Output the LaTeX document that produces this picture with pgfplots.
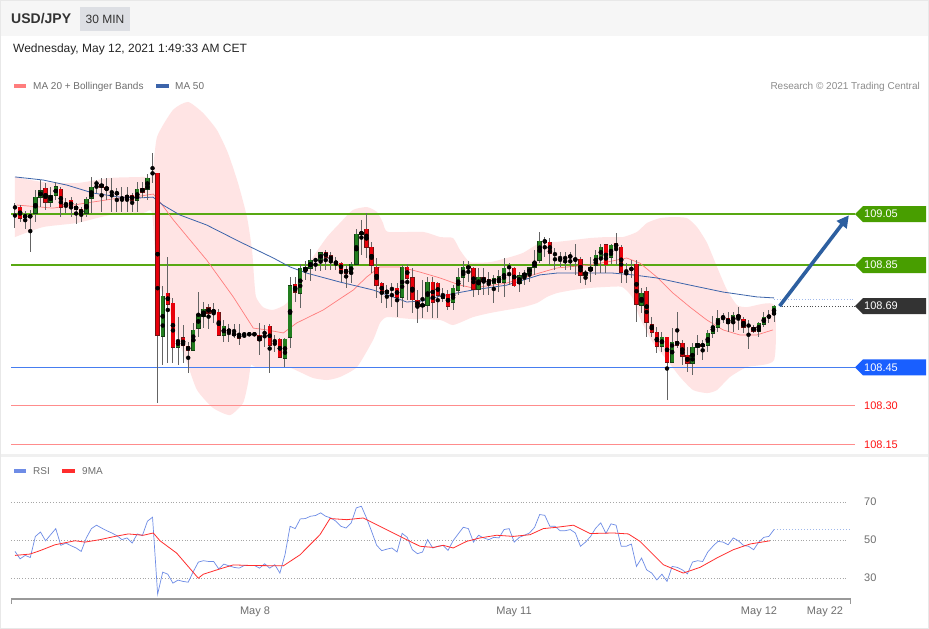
\documentclass[border=0pt]{standalone}
\usepackage{pgfplots}
\pgfplotsset{compat=1.18}
\usepackage{pgfplotstable}
\usetikzlibrary{arrows.meta}
\usepackage{fontspec}
\setmainfont{Liberation Sans}

\definecolor{cRed}{RGB}{232,0,10}
\definecolor{cRedB}{RGB}{110,20,20}
\definecolor{cGreen}{RGB}{34,125,30}
\definecolor{cGreenB}{RGB}{20,60,20}
\definecolor{cWick}{RGB}{100,100,100}
\definecolor{cBand}{RGB}{255,228,228}
\definecolor{cMA20}{RGB}{255,125,125}
\definecolor{cMA50}{RGB}{60,100,170}
\definecolor{cLvlGreen}{RGB}{88,168,18}
\definecolor{cBoxGreen}{RGB}{72,158,0}
\definecolor{cLevelB}{RGB}{70,125,240}
\definecolor{cBoxBlue}{RGB}{25,95,255}
\definecolor{cLvlRed}{RGB}{255,140,140}
\definecolor{cTxtRed}{RGB}{255,20,20}
\definecolor{cArrow}{RGB}{45,95,160}
\definecolor{cRSI}{RGB}{110,140,230}
\definecolor{cMA9}{RGB}{255,45,45}
\definecolor{cGrayTxt}{RGB}{110,110,110}
\definecolor{cHead}{RGB}{246,246,246}
\definecolor{cSep}{RGB}{240,240,240}
\definecolor{cFrame}{RGB}{232,232,232}
\definecolor{cTag}{RGB}{221,223,228}
\definecolor{cGuideB}{RGB}{160,185,235}
\newcommand{\fs}[1]{\fontsize{#1}{#1}\selectfont}

\pgfplotstableread{
i O H L C
0 109.077 109.093 108.995 109.077
1 109.077 109.085 109.019 109.034
2 109.038 109.062 108.991 109.046
3 109.046 109.066 108.901 109.038
4 109.054 109.144 109.019 109.116
5 109.116 109.183 109.077 109.140
6 109.152 109.171 109.066 109.097
7 109.097 109.156 109.077 109.124
8 109.124 109.175 109.105 109.156
9 109.148 109.156 109.038 109.077
10 109.085 109.113 109.054 109.093
11 109.105 109.116 109.038 109.077
12 109.081 109.093 109.011 109.070
13 109.070 109.077 109.019 109.054
14 109.054 109.116 109.038 109.109
15 109.113 109.195 109.054 109.156
16 109.171 109.183 109.132 109.171
17 109.167 109.191 109.058 109.156
18 109.156 109.191 109.105 109.148
19 109.136 109.191 109.058 109.136
20 109.136 109.152 109.058 109.128
21 109.116 109.156 109.058 109.109
22 109.113 109.156 109.058 109.124
23 109.124 109.132 109.058 109.105
24 109.105 109.175 109.058 109.148
25 109.152 109.175 109.113 109.136
26 109.148 109.206 109.105 109.191
27 109.210 109.289 109.171 109.210
28 109.210 109.210 108.311 108.577
29 108.573 108.769 108.460 108.729
30 108.741 108.882 108.468 108.698
31 108.702 108.722 108.471 108.530
32 108.530 108.647 108.460 108.557
33 108.565 108.616 108.468 108.534
34 108.534 108.550 108.428 108.518
35 108.518 108.624 108.518 108.597
36 108.604 108.745 108.569 108.659
37 108.651 108.706 108.604 108.679
38 108.686 108.698 108.600 108.663
39 108.675 108.702 108.624 108.667
40 108.667 108.679 108.573 108.577
41 108.577 108.636 108.550 108.612
42 108.600 108.620 108.550 108.589
43 108.585 108.620 108.565 108.577
44 108.581 108.620 108.538 108.565
45 108.581 108.581 108.569 108.581
46 108.581 108.581 108.581 108.581
47 108.581 108.581 108.581 108.581
48 108.577 108.624 108.499 108.557
49 108.585 108.616 108.530 108.585
50 108.612 108.620 108.428 108.538
51 108.554 108.577 108.511 108.554
52 108.561 108.565 108.487 108.491
53 108.487 108.565 108.452 108.561
54 108.569 108.804 108.526 108.769
55 108.776 108.804 108.706 108.745
56 108.741 108.858 108.683 108.839
57 108.831 108.866 108.792 108.839
58 108.839 108.913 108.788 108.870
59 108.870 108.878 108.827 108.870
60 108.870 108.901 108.827 108.898
61 108.901 108.909 108.831 108.882
62 108.886 108.901 108.831 108.870
63 108.866 108.882 108.831 108.855
64 108.858 108.862 108.784 108.831
65 108.835 108.851 108.761 108.819
66 108.819 108.862 108.780 108.855
67 108.855 108.991 108.851 108.972
68 108.972 109.027 108.890 108.980
69 108.991 109.054 108.878 108.921
70 108.921 108.941 108.819 108.851
71 108.843 108.878 108.722 108.772
72 108.780 108.784 108.702 108.741
73 108.741 108.772 108.683 108.753
74 108.757 108.780 108.686 108.757
75 108.761 108.780 108.647 108.726
76 108.726 108.851 108.683 108.843
77 108.843 108.855 108.714 108.800
78 108.800 108.839 108.663 108.714
79 108.714 108.753 108.624 108.690
80 108.690 108.792 108.643 108.698
81 108.694 108.804 108.667 108.784
82 108.784 108.804 108.643 108.706
83 108.780 108.784 108.643 108.733
84 108.722 108.761 108.706 108.733
85 108.737 108.753 108.675 108.690
86 108.706 108.772 108.675 108.761
87 108.753 108.839 108.733 108.804
88 108.804 108.866 108.765 108.843
89 108.843 108.866 108.784 108.839
90 108.839 108.843 108.726 108.757
91 108.757 108.839 108.733 108.804
92 108.800 108.839 108.733 108.788
93 108.792 108.823 108.733 108.780
94 108.780 108.812 108.702 108.800
95 108.784 108.831 108.745 108.804
96 108.784 108.878 108.726 108.839
97 108.843 108.858 108.772 108.843
98 108.839 108.843 108.765 108.772
99 108.780 108.823 108.745 108.808
100 108.808 108.831 108.772 108.819
101 108.819 108.843 108.784 108.839
102 108.843 108.909 108.812 108.862
103 108.870 108.980 108.858 108.944
104 108.948 108.960 108.882 108.941
105 108.941 108.956 108.851 108.898
106 108.894 108.917 108.831 108.894
107 108.878 108.901 108.843 108.878
108 108.878 108.901 108.831 108.878
109 108.886 108.901 108.831 108.882
110 108.874 108.933 108.812 108.874
111 108.874 108.882 108.780 108.812
112 108.812 108.831 108.772 108.823
113 108.831 108.882 108.784 108.843
114 108.851 108.909 108.812 108.890
115 108.882 108.933 108.819 108.921
116 108.929 108.933 108.819 108.851
117 108.882 108.933 108.858 108.929
118 108.937 108.976 108.851 108.921
119 108.921 108.929 108.780 108.823
120 108.827 108.858 108.780 108.827
121 108.835 108.870 108.800 108.835
122 108.855 108.870 108.628 108.698
123 108.694 108.761 108.663 108.741
124 108.749 108.765 108.569 108.628
125 108.620 108.651 108.573 108.589
126 108.589 108.608 108.507 108.534
127 108.534 108.589 108.511 108.569
128 108.569 108.569 108.323 108.471
129 108.471 108.604 108.468 108.550
130 108.554 108.667 108.526 108.538
131 108.546 108.557 108.460 108.495
132 108.499 108.530 108.432 108.468
133 108.468 108.546 108.420 108.530
134 108.530 108.577 108.499 108.542
135 108.542 108.557 108.479 108.534
136 108.538 108.600 108.511 108.585
137 108.585 108.651 108.565 108.612
138 108.608 108.675 108.589 108.643
139 108.651 108.663 108.624 108.643
140 108.643 108.667 108.589 108.624
141 108.628 108.667 108.589 108.655
142 108.655 108.686 108.597 108.647
143 108.640 108.647 108.585 108.608
144 108.614 108.636 108.522 108.614
145 108.608 108.616 108.585 108.593
146 108.593 108.628 108.569 108.624
147 108.620 108.667 108.608 108.647
148 108.649 108.675 108.624 108.649
149 108.659 108.694 108.628 108.690
}\candles

\pgfplotstableread{
i v
0 44.0
1 40.1
2 41.9
3 40.8
4 51.9
5 54.2
6 49.6
7 52.8
8 56.0
9 47.2
10 48.4
11 47.0
12 45.8
13 44.0
14 51.1
15 56.0
16 57.8
17 56.3
18 54.9
19 53.7
20 52.3
21 50.2
22 51.1
23 48.4
24 53.2
25 52.3
26 59.9
27 62.0
28 21.5
29 33.1
30 32.0
31 27.3
32 28.9
33 28.2
34 27.8
35 33.4
36 38.4
37 39.1
38 38.7
39 38.7
40 34.8
41 37.3
42 36.4
43 35.6
44 35.2
45 36.6
46 36.6
47 36.6
48 35.2
49 37.5
50 35.2
51 37.0
52 32.6
53 42.2
54 57.2
55 56.0
56 61.1
57 61.3
58 62.5
59 62.9
60 64.3
61 62.5
62 61.6
63 59.9
64 57.2
65 56.3
66 59.0
67 66.9
68 67.8
69 61.6
70 54.6
71 47.2
72 44.4
73 45.2
74 45.8
75 43.7
76 53.5
77 51.4
78 44.9
79 42.8
80 43.7
81 50.2
82 45.8
83 46.7
84 47.2
85 44.5
86 49.6
87 53.2
88 56.7
89 56.0
90 48.9
91 52.5
92 51.1
93 50.2
94 51.4
95 51.1
96 55.5
97 56.0
98 48.9
99 51.4
100 52.5
101 53.7
102 56.7
103 63.4
104 63.0
105 57.2
106 57.2
107 54.9
108 54.9
109 55.5
110 53.7
111 46.7
112 48.9
113 51.9
114 56.3
115 59.0
116 53.5
117 58.5
118 57.8
119 46.7
120 46.7
121 47.9
122 36.1
123 40.5
124 34.3
125 32.6
126 29.0
127 32.0
128 28.2
129 36.1
130 35.6
131 34.3
132 32.2
133 38.4
134 39.1
135 38.7
136 43.7
137 46.7
138 49.3
139 48.9
140 47.5
141 51.1
142 49.6
143 47.2
144 46.7
145 44.9
146 48.9
147 51.4
148 51.9
149 55.5
}\rsi

\pgfplotsset{
  candlebase/.style={only marks, mark=none, forget plot,
    error bars/y dir=both, error bars/y explicit, error bars/error mark=none},
}

\begin{document}
\begin{tikzpicture}[x=1pt,y=1pt]
% background and frame
\fill[white] (0,0) rectangle (929,-629);
\fill[cHead] (0,0) rectangle (929,-36);
\fill[cSep] (0,-454) rectangle (929,-457);
\draw[cFrame, line width=1pt] (0.5,-0.5) rectangle (928.5,-628.5);
% header
\node[anchor=west, inner sep=0pt, text=black!80, font=\fs{14}\bfseries] at (11,-19) {USD/JPY};
\fill[cTag] (80,-7) rectangle (130,-31);
\node[inner sep=0pt, text=black!80, font=\fs{12}] at (105,-19) {30 MIN};
\node[anchor=west, inner sep=0pt, text=black!85, font=\fs{12}] at (13,-49) {Wednesday, May 12, 2021 1:49:33 AM CET};
% legend main
\fill[cMA20] (14,-84) rectangle (26,-88);
\node[anchor=west, inner sep=0pt, text=cGrayTxt, font=\fs{10}] at (33,-86.5) {MA 20 + Bollinger Bands};
\fill[cMA50] (156,-84) rectangle (169,-88);
\node[anchor=west, inner sep=0pt, text=cGrayTxt, font=\fs{10}] at (175,-86.5) {MA 50};
\node[anchor=east, inner sep=0pt, text=black!45, font=\fs{10}] at (920,-86.5) {Research \textcopyright{} 2021 Trading Central};
% legend RSI
\fill[cRSI] (14,-469) rectangle (26,-473);
\node[anchor=west, inner sep=0pt, text=cGrayTxt, font=\fs{10}] at (33,-471.5) {RSI};
\fill[cMA9] (62,-469) rectangle (75,-473);
\node[anchor=west, inner sep=0pt, text=cGrayTxt, font=\fs{10}] at (82,-471.5) {9MA};

% ================= main price axis =================
\begin{axis}[at={(11pt,-451.9pt)}, anchor=south west, scale only axis,
  width=844pt, height=358.12pt,
  xmin=-0.785, xmax=164.90, ymin=108.12, ymax=109.52,
  axis lines=none, ticks=none, clip=false]

% Bollinger band: upper edge left to right, then lower edge right to left
\addplot[fill=cBand, draw=none, smooth, tension=0.35, forget plot] coordinates {
(0,109.195) (5.50,109.175) (12.17,109.171) (18.65,109.191) (25.13,109.195) (26.89,109.199)
(27.88,109.351) (31.02,109.457) (33.96,109.488) (36.91,109.445) (39.65,109.378) (41.81,109.288)
(43.78,109.171) (45.54,109.038) (46.53,108.909) (46.92,108.804) (47.31,108.726) (48.68,108.686)
(50.65,108.675) (53.40,108.702) (55.95,108.804) (58.50,108.882) (61.25,108.960) (63.80,109.015)
(66.35,109.066) (69.10,109.077) (71.06,109.058) (72.24,109.015) (73.22,108.980) (80.09,108.980)
(83.43,108.960) (85.98,108.956) (87.36,108.909) (89.32,108.862) (93.25,108.862) (96.58,108.878)
(99.73,108.898) (103.06,108.937) (106.40,108.941) (109.54,108.948) (112.88,108.956) (116.22,108.960)
(119.36,108.960) (122.11,108.980) (124.07,109.015) (126.62,109.034) (129.17,109.038) (131.92,109.034)
(133.88,108.999) (135.85,108.937) (137.81,108.843) (139.77,108.753) (141.74,108.694) (143.70,108.686)
(149.0,108.694)
(149.0,108.479) (143.70,108.452) (140.36,108.413) (137.81,108.362) (135.85,108.350) (133.10,108.362)
(130.55,108.413) (128.0,108.479) (125.25,108.546) (122.69,108.643) (121.12,108.726) (119.16,108.765)
(116.22,108.765) (112.88,108.761) (109.54,108.753) (106.40,108.741) (104.44,108.726) (102.47,108.702)
(99.73,108.686) (96.58,108.675) (93.25,108.663) (89.91,108.647) (85.98,108.616) (83.43,108.636)
(77.54,108.640) (73.03,108.647) (71.65,108.624) (70.28,108.557) (67.14,108.452) (63.80,108.413)
(61.25,108.401) (58.50,108.409) (55.95,108.432) (53.40,108.452) (47.31,108.452) (46.33,108.460)
(45.74,108.389) (44.76,108.311) (42.21,108.264) (38.87,108.292) (35.73,108.362) (33.77,108.468)
(31.80,108.569) (29.84,108.702) (27.88,108.804) (26.89,109.054) (25.13,109.054) (18.65,109.046)
(12.17,109.015) (5.50,108.999) (0,108.960)};

% level lines
\addplot[draw=cLvlGreen, line width=2pt] coordinates {(-0.785,109.05) (164.90,109.05)};
\addplot[draw=cLvlGreen, line width=2pt] coordinates {(-0.785,108.85) (164.90,108.85)};
\addplot[draw=cLevelB, line width=1.6pt] coordinates {(-0.785,108.45) (164.90,108.45)};
\addplot[draw=cLvlRed, line width=1pt] coordinates {(-0.785,108.30) (164.90,108.30)};
\addplot[draw=cLvlRed, line width=1pt] coordinates {(-0.785,108.15) (164.90,108.15)};

% MA 20
\addplot[cMA20, line width=0.7pt] coordinates {
(0.39,109.085) (7.46,109.073) (15.31,109.097) (20.61,109.113) (24.54,109.120) (27.15,109.128)
(28.46,109.097) (31.08,109.027) (37.63,108.870) (42.85,108.726) (46.78,108.604) (49.41,108.597)
(52.67,108.585) (55.30,108.624) (60.52,108.675) (66.41,108.753) (69.04,108.804) (71.65,108.843)
(75.58,108.843) (79.50,108.823) (83.43,108.800) (87.36,108.772) (89.91,108.761) (96.53,108.780)
(101.69,108.812) (106.34,108.839) (112.88,108.851) (116.16,108.862) (120.08,108.878) (122.69,108.858)
(125.97,108.804) (129.17,108.741) (132.51,108.686) (135.79,108.636) (138.99,108.597) (142.32,108.577)
(145.60,108.577) (148.80,108.597)};
% MA 50
\addplot[cMA50, line width=0.8pt] coordinates {
(0,109.195) (5.5,109.183) (10.2,109.163) (15.31,109.132) (20.61,109.116) (24.54,109.113)
(27.09,109.116) (29.05,109.085) (32.39,109.046) (37.63,109.007) (44.17,108.941) (50.71,108.878)
(53.99,108.843) (57.26,108.819) (63.80,108.784) (70.28,108.753) (74.21,108.726) (76.89,108.706)
(80.09,108.710) (83.43,108.729) (89.91,108.753) (96.53,108.772) (103.06,108.812) (106.34,108.819)
(117.39,108.819) (121.32,108.812) (125.97,108.800) (132.51,108.772) (138.99,108.745) (145.60,108.726)
(149,108.722)};

% candles: wicks
\addplot[candlebase, error bars/error bar style={cWick, line width=1pt}]
  table[x=i, y expr={(\thisrow{H}+\thisrow{L})/2}, y error expr={(\thisrow{H}-\thisrow{L})/2}] {\candles};
% red bodies
\addplot[candlebase, restrict expr to domain={\thisrow{O}-\thisrow{C}}{0.003:10},
  error bars/error bar style={cRedB, line width=4.4pt}]
  table[x=i, y expr={(\thisrow{O}+\thisrow{C})/2}, y error expr={abs(\thisrow{O}-\thisrow{C})/2+0.002}] {\candles};
\addplot[candlebase, restrict expr to domain={\thisrow{O}-\thisrow{C}}{0.003:10},
  error bars/error bar style={cRed, line width=3.2pt}]
  table[x=i, y expr={(\thisrow{O}+\thisrow{C})/2}, y error expr={abs(\thisrow{O}-\thisrow{C})/2}] {\candles};
% green bodies
\addplot[candlebase, restrict expr to domain={\thisrow{C}-\thisrow{O}}{0.003:10},
  error bars/error bar style={cGreenB, line width=4.4pt}]
  table[x=i, y expr={(\thisrow{O}+\thisrow{C})/2}, y error expr={abs(\thisrow{O}-\thisrow{C})/2+0.002}] {\candles};
\addplot[candlebase, restrict expr to domain={\thisrow{C}-\thisrow{O}}{0.003:10},
  error bars/error bar style={cGreen, line width=3.2pt}]
  table[x=i, y expr={(\thisrow{O}+\thisrow{C})/2}, y error expr={abs(\thisrow{O}-\thisrow{C})/2}] {\candles};
% doji
\addplot[candlebase, restrict expr to domain={abs(\thisrow{O}-\thisrow{C})}{0:0.00299},
  error bars/error bar style={black!70, line width=4pt}]
  table[x=i, y expr={(\thisrow{O}+\thisrow{C})/2}, y error expr={0.0015}] {\candles};

% dotted guides
\addplot[black!70, dotted, line width=0.8pt] coordinates {(150.5,108.69) (164.90,108.69)};
\addplot[cGuideB, dotted, line width=0.8pt] coordinates {(149,108.718) (164.90,108.718)};

% arrow
\addplot[cArrow, line width=3.6pt, -{Triangle[length=12pt, width=12pt]}] coordinates {(150.1,108.69) (163.7,109.045)};

% right labels
\fill[cBoxGreen] (axis cs:164.90,109.05) -- ++(8pt,8pt) -- ++(63pt,0pt) -- ++(0pt,-16pt) -- ++(-63pt,0pt) -- cycle;
\node[anchor=west, inner sep=0pt, text=white, font=\fs{11}] at ([xshift=9pt]axis cs:164.90,109.05) {109.05};
\fill[cBoxGreen] (axis cs:164.90,108.85) -- ++(8pt,8pt) -- ++(63pt,0pt) -- ++(0pt,-16pt) -- ++(-63pt,0pt) -- cycle;
\node[anchor=west, inner sep=0pt, text=white, font=\fs{11}] at ([xshift=9pt]axis cs:164.90,108.85) {108.85};
\fill[black!80] (axis cs:164.90,108.69) -- ++(8pt,8pt) -- ++(63pt,0pt) -- ++(0pt,-16pt) -- ++(-63pt,0pt) -- cycle;
\node[anchor=west, inner sep=0pt, text=white, font=\fs{11}] at ([xshift=9pt]axis cs:164.90,108.69) {108.69};
\fill[cBoxBlue] (axis cs:164.90,108.45) -- ++(8pt,8pt) -- ++(63pt,0pt) -- ++(0pt,-16pt) -- ++(-63pt,0pt) -- cycle;
\node[anchor=west, inner sep=0pt, text=white, font=\fs{11}] at ([xshift=9pt]axis cs:164.90,108.45) {108.45};
\node[anchor=west, inner sep=0pt, text=cTxtRed, font=\fs{11}] at ([xshift=9pt]axis cs:164.90,108.30) {108.30};
\node[anchor=west, inner sep=0pt, text=cTxtRed, font=\fs{11}] at ([xshift=9pt]axis cs:164.90,108.15) {108.15};
\end{axis}

% ================= RSI axis =================
\begin{axis}[at={(11pt,-599pt)}, anchor=south west, scale only axis,
  width=844pt, height=138.99pt,
  xmin=-0.785, xmax=164.90, ymin=18.95, ymax=92.1,
  axis lines=none, ticks=none, clip=false]
\addplot[black!35, dotted, line width=0.8pt] coordinates {(-0.785,70) (163.3,70)};
\addplot[black!35, dotted, line width=0.8pt] coordinates {(-0.785,50) (163.3,50)};
\addplot[black!35, dotted, line width=0.8pt] coordinates {(-0.785,30) (163.3,30)};
\addplot[cGuideB, dotted, line width=1pt] coordinates {(149,55.4) (164.3,55.4)};
\addplot[cRSI, line width=0.7pt] table[x=i, y=v] {\rsi};
\addplot[cMA9, line width=0.8pt] coordinates {
(0,41.9) (2.94,42.6) (4.91,44.4) (7.85,47.5) (11.78,49.6) (13.74,48.9) (16.69,50.2) (19.63,51.9)
(22.24,53.2) (25.19,52.5) (27.15,53.7) (28.46,49.6) (31.74,43.1) (35.98,29.9) (36.97,32.0) (40.24,34.8)
(42.85,36.9) (46.13,36.6) (52.67,36.4) (55.95,42.2) (59.87,52.8) (61.84,61.3) (65.12,60.7) (68.37,61.6)
(71.65,57.2) (74.26,53.7) (75.58,51.9) (79.5,46.7) (82.12,46.1) (84.08,47.2) (86.04,45.8) (88.67,49.3)
(91.29,51.1) (94.56,52.5) (97.82,51.9) (101.1,52.8) (103.71,56.0) (106.34,56.7) (109.6,57.8) (112.88,53.4)
(117.45,53.7) (120.4,53.2) (122.69,49.3) (127.27,37.0) (131.19,32.6) (134.47,35.6) (137.75,40.5)
(141.0,44.9) (144.29,47.9) (148.21,49.6)};
% bottom axis line
\addplot[black!40, line width=1.6pt] coordinates {(-0.785,18.95) (164.1,18.95)};
\end{axis}
\draw[black!40, line width=1.2pt] (11.6,-599) -- (11.6,-604);
\draw[black!40, line width=1.2pt] (850.4,-599) -- (850.4,-604);
% RSI labels
\node[anchor=west, inner sep=0pt, text=cGrayTxt, font=\fs{11}] at (864,-502) {70};
\node[anchor=west, inner sep=0pt, text=cGrayTxt, font=\fs{11}] at (864,-540) {50};
\node[anchor=west, inner sep=0pt, text=cGrayTxt, font=\fs{11}] at (864,-578) {30};
% date labels
\node[inner sep=0pt, text=cGrayTxt, font=\fs{11}] at (255,-612) {May 8};
\node[inner sep=0pt, text=cGrayTxt, font=\fs{11}] at (514,-612) {May 11};
\node[inner sep=0pt, text=cGrayTxt, font=\fs{11}] at (759,-612) {May 12};
\node[inner sep=0pt, text=cGrayTxt, font=\fs{11}] at (825,-612) {May 22};
\end{tikzpicture}
\end{document}
